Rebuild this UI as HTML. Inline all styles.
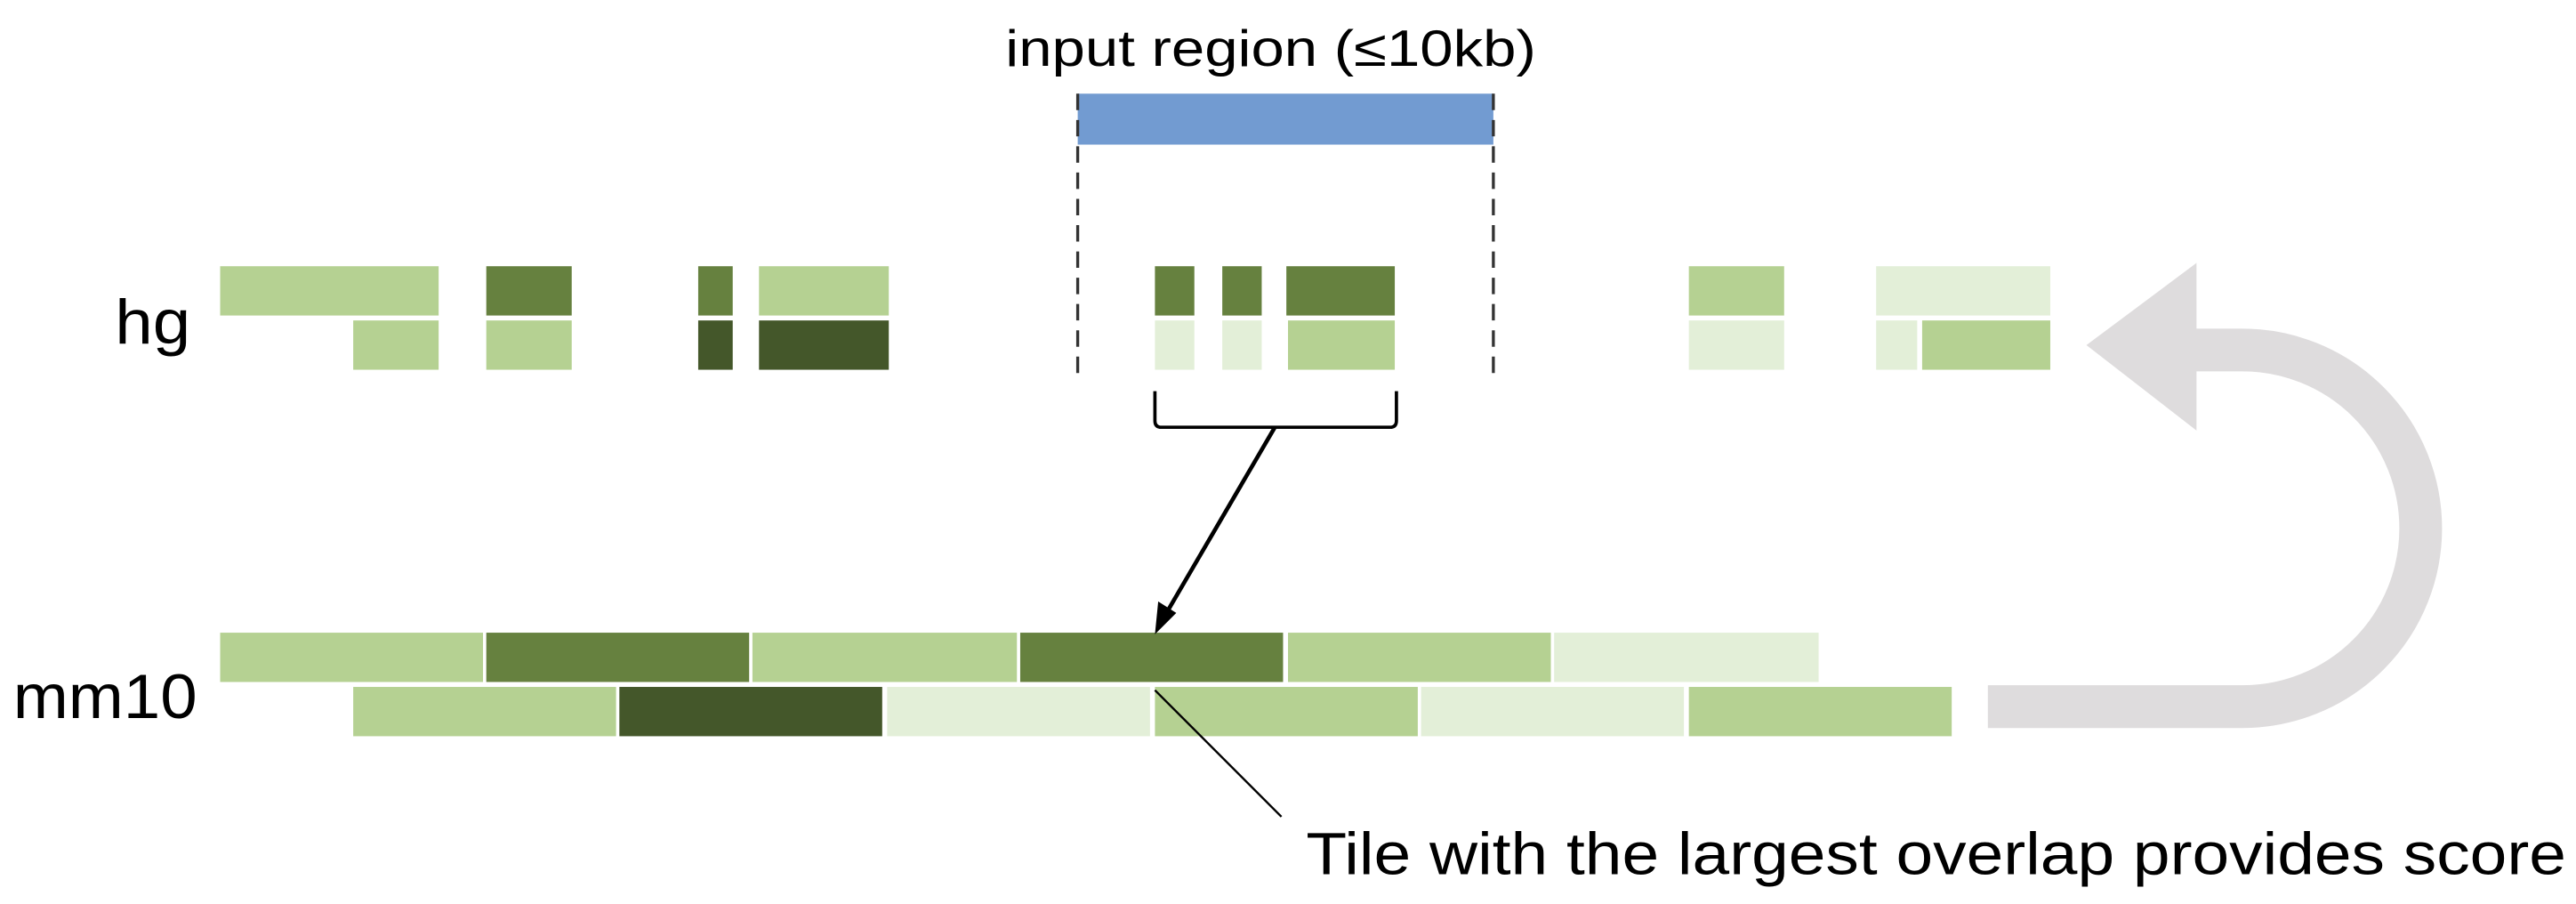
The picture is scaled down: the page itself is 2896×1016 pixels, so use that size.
<!DOCTYPE html>
<html><head><meta charset="utf-8"><style>
html,body{margin:0;padding:0;background:#fff}
svg{display:block}
text{font-family:"Liberation Sans",sans-serif;fill:#000}
</style></head><body>
<svg width="2896" height="1016" viewBox="0 0 1568 550.1" xmlns="http://www.w3.org/2000/svg">
<rect width="1568" height="550.1" fill="#fff"/>
<text x="612" y="40" font-size="31" textLength="323" lengthAdjust="spacingAndGlyphs">input region (≤10kb)</text>
<rect x="656" y="57" width="253" height="31" fill="#729bd1"/>
<line x1="656" y1="57" x2="656" y2="228" stroke="#333" stroke-width="1.8" stroke-dasharray="10,6"/>
<line x1="909" y1="57" x2="909" y2="228" stroke="#333" stroke-width="1.8" stroke-dasharray="10,6"/>
<text x="70" y="209" font-size="38" textLength="46" lengthAdjust="spacingAndGlyphs">hg</text>
<text x="8" y="437" font-size="38" textLength="112" lengthAdjust="spacingAndGlyphs">mm10</text>
<g>
<rect x="134" y="162" width="133" height="30" fill="#b5d192"/>
<rect x="296" y="162" width="52" height="30" fill="#66813f"/>
<rect x="425" y="162" width="21" height="30" fill="#66813f"/>
<rect x="462" y="162" width="79" height="30" fill="#b5d192"/>
<rect x="703" y="162" width="24" height="30" fill="#66813f"/>
<rect x="744" y="162" width="24" height="30" fill="#66813f"/>
<rect x="783" y="162" width="66" height="30" fill="#66813f"/>
<rect x="1028" y="162" width="58" height="30" fill="#b5d192"/>
<rect x="1142" y="162" width="106" height="30" fill="#e3efd8"/>
<rect x="215" y="195" width="52" height="30" fill="#b5d192"/>
<rect x="296" y="195" width="52" height="30" fill="#b5d192"/>
<rect x="425" y="195" width="21" height="30" fill="#44572a"/>
<rect x="462" y="195" width="79" height="30" fill="#44572a"/>
<rect x="703" y="195" width="24" height="30" fill="#e3efd8"/>
<rect x="744" y="195" width="24" height="30" fill="#e3efd8"/>
<rect x="784" y="195" width="65" height="30" fill="#b5d192"/>
<rect x="1028" y="195" width="58" height="30" fill="#e3efd8"/>
<rect x="1142" y="195" width="25" height="30" fill="#e3efd8"/>
<rect x="1170" y="195" width="78" height="30" fill="#b5d192"/>
</g>
<g>
<rect x="134" y="385" width="160" height="30" fill="#b5d192"/>
<rect x="296" y="385" width="160" height="30" fill="#66813f"/>
<rect x="458" y="385" width="161" height="30" fill="#b5d192"/>
<rect x="621" y="385" width="160" height="30" fill="#66813f"/>
<rect x="784" y="385" width="160" height="30" fill="#b5d192"/>
<rect x="946" y="385" width="161" height="30" fill="#e3efd8"/>
<rect x="215" y="418" width="160" height="30" fill="#b5d192"/>
<rect x="377" y="418" width="160" height="30" fill="#44572a"/>
<rect x="540" y="418" width="160" height="30" fill="#e3efd8"/>
<rect x="703" y="418" width="160" height="30" fill="#b5d192"/>
<rect x="865" y="418" width="160" height="30" fill="#e3efd8"/>
<rect x="1028" y="418" width="160" height="30" fill="#b5d192"/>
</g>
<path d="M703 238 V256 Q703 260 707 260 H846 Q850 260 850 256 V238" fill="none" stroke="#000" stroke-width="2"/>
<line x1="776" y1="260" x2="710" y2="373" stroke="#000" stroke-width="2.5"/>
<polygon points="703,386 705,366 716,373" fill="#000"/>
<line x1="703" y1="420" x2="780" y2="497" stroke="#000" stroke-width="1.3"/>
<text x="795" y="532" font-size="36" textLength="767" lengthAdjust="spacingAndGlyphs">Tile with the largest overlap provides score</text>
<path d="M1210 430 H1365 A108.5 108.5 0 0 0 1365 213 H1335" fill="none" stroke="#dedcdd" stroke-width="26"/>
<polygon points="1270,210 1337,160 1337,262" fill="#dedcdd"/>
</svg>
</body></html>
